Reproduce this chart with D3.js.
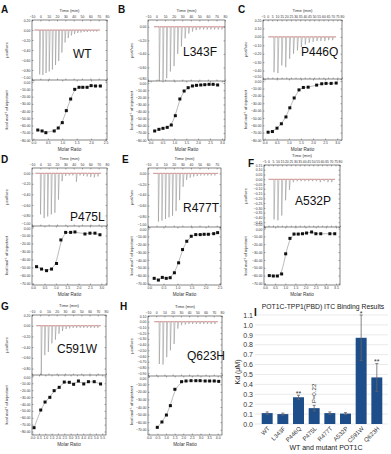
<!DOCTYPE html>
<html>
<head>
<meta charset="utf-8">
<script src="https://cdn.jsdelivr.net/npm/d3@7"></script>
<style>
  body { margin: 0; background: #fff; }
  svg { font-family: "Liberation Sans", Arial, sans-serif; }
  .tick text { font-size: 3.4px; fill: #333; }
  .tick line { stroke: #333; stroke-width: 0.4; }
</style>
</head>
<body>
<div id="fig"></div>
<script>
// ---- ITC raw heat peaks (ucal/sec, minimum of each injection) ----
var wtPeaks    = [-0.89, -0.90, -0.86, -0.83, -0.79, -0.70, -0.62, -0.45, -0.25, -0.16, -0.11, -0.08, -0.06, -0.05, -0.04, -0.04, -0.03, -0.03, -0.03];
var l343fPeaks = [-0.80, -0.79, -0.76, -0.66, -0.58, -0.40, -0.29, -0.17, -0.10, -0.07, -0.05, -0.04, -0.04, -0.04, -0.04, -0.04, -0.04, -0.04];
var p446qPeaks = [-0.42, -0.43, -0.34, -0.36, -0.26, -0.20, -0.16, -0.12, -0.09, -0.07, -0.06, -0.05, -0.05, -0.05, -0.04, -0.04];
var p475lPeaks = [-0.78, -0.85, -0.82, -0.78, -0.75, -0.50, -0.15, -0.05, -0.04, -0.04, -0.16, -0.04, -0.05, -0.06, -0.07, -0.08, -0.06];
var r477tPeaks = [-0.90, -0.88, -0.85, -0.82, -0.79, -0.70, -0.50, -0.25, -0.12, -0.08, -0.06, -0.05, -0.04, -0.04, -0.04, -0.04, -0.04];
var a532pPeaks = [-0.42, -0.43, -0.38, -0.22, -0.11, -0.03, -0.02, -0.02, -0.02, -0.02, -0.02, -0.02, -0.03, -0.02, -0.03, -0.03];
var c591wPeaks = [-0.92, -0.55, -0.49, -0.33, -0.26, -0.15, -0.10, -0.06, -0.05, -0.04, -0.04, -0.04, -0.04, -0.04, -0.04, -0.04, -0.04];
var q623hPeaks = [-0.74, -0.75, -0.62, -0.50, -0.39, -0.12, -0.06, -0.05, -0.04, -0.04, -0.04, -0.04, -0.04, -0.04, -0.04, -0.04];

// first injection time and spacing (min), one per panel A..H
var injStart = [-1, 3, 6.6, 0, 1.9, 6, 1, 3.5];
var injEvery = [3.8, 4.3, 4.2, 4.3, 4.1, 4.3, 4.3, 4.5];

// ---- integrated heats (molar ratio, kcal/mol of injectant) ----
var wtRatio    = [0.15, 0.30, 0.43, 0.72, 0.86, 1.00, 1.14, 1.29, 1.43, 1.58, 1.71, 1.86, 2.00, 2.15, 2.32];
var wtHeat     = [-66.2, -67.5, -69.9, -67.5, -63.4, -56.0, -39.4, -23.3, -9.9, -7.1, -7.1, -7.1, -4.8, -5.3, -5.3];
var l343fRatio = [0.17, 0.35, 0.52, 0.70, 0.87, 1.04, 1.23, 1.41, 1.58, 1.76, 1.93, 2.11, 2.28, 2.46, 2.63, 2.82];
var l343fHeat  = [-67.3, -65.0, -63.6, -62.2, -58.9, -45.8, -22.3, -11.1, -6.4, -4.0, -3.1, -2.6, -2.2, -1.7, -1.7, -2.6];
var p446qRatio = [0.14, 0.32, 0.51, 0.69, 0.88, 1.04, 1.22, 1.42, 1.60, 1.80, 2.15, 2.36, 2.54, 2.75, 2.96];
var p446qHeat  = [-69.4, -68.5, -63.9, -57.9, -48.6, -36.2, -22.8, -11.8, -8.5, -8.1, -5.3, -3.5, -3.0, -3.0, -2.5];
var p475lRatio = [0.15, 0.37, 0.59, 0.81, 1.03, 1.22, 1.43, 1.65, 1.84, 2.28, 2.50, 2.72, 2.94];
var p475lHeat  = [-49, -52, -54, -52, -45, -15.5, -6, -6, -5.5, -8, -7, -7, -9];
var r477tRatio = [0.17, 0.32, 0.46, 0.60, 0.74, 0.89, 1.04, 1.18, 1.33, 1.49, 1.65, 1.81, 1.95, 2.10, 2.29, 2.43];
var r477tHeat  = [-63.5, -65.7, -62.3, -63.5, -62.7, -56.4, -43.7, -26.8, -16.2, -9.8, -7.7, -7.7, -7.3, -7.3, -6.5, -5.2];
var a532pRatio = [0.21, 0.41, 0.61, 0.82, 1.02, 1.23, 1.43, 1.64, 1.85, 2.05, 2.30, 2.51, 2.75, 3.20, 3.44];
var a532pHeat  = [-60.0, -60.5, -60.5, -57.9, -32.2, -12.5, -7.0, -7.0, -6.6, -5.7, -4.4, -6.6, -6.6, -6.6, -6.6];
var c591wRatio = [0.11, 0.64, 0.98, 1.36, 1.70, 2.10, 2.50, 2.90, 3.24, 3.62, 4.04, 4.41, 4.87, 5.37];
var c591wHeat  = [-74.4, -48.8, -37.2, -30.4, -20.7, -15.9, -8.2, -8.6, -11.5, -6.7, -11.0, -7.7, -7.7, -11.0];
var q623hRatio = [0.49, 0.76, 1.02, 1.25, 1.51, 1.90, 2.16, 2.45, 2.73, 2.98, 3.27, 3.53, 3.80, 4.06];
var q623hHeat  = [-66.9, -59.8, -50.6, -38.2, -16.6, -6.5, -5.6, -5.2, -5.2, -5.2, -5.6, -5.6, -5.6, -6.1];

// ---- panel I: Kd summary ----
var mutants = ["WT", "L343F", "P446Q", "P475L", "R477T", "A532P", "C591W", "Q623H"];
var kd      = [0.11, 0.10, 0.27, 0.16, 0.11, 0.105, 0.87, 0.47];
var kdErr   = [0.012, 0.01, 0.02, 0.028, 0.012, 0.01, 0.23, 0.14];
var kdMarks = ["", "", "**", "P=0.22", "", "", "*", "**"];
var kdTicks = [0, 0.1, 0.2, 0.3, 0.4, 0.5, 0.6, 0.7, 0.8, 0.9, 1.0, 1.1];

// panel layout + axis ranges
var panels = [
  {letter: "A", name: "WT",    peaks: wtPeaks,    ratio: wtRatio,    heat: wtHeat,
   x0: 32, x1: 107, top: 20, mid: 80, bot: 140, lx: 1, ly: 13, nx: 73, ny: 58, yt: 8,
   tDom: [-10, 80], tStep: 10, pDom: [0.2, -1.0], pStep: 0.2, rDom: [-0.05, 2.55], hDom: [3, -80], hStep: 10},
  {letter: "B", name: "L343F", peaks: l343fPeaks, ratio: l343fRatio, heat: l343fHeat,
   x0: 148, x1: 225, top: 20, mid: 81, bot: 140, lx: 118, ly: 13, nx: 183, ny: 56, yt: 133,
   tDom: [-10, 80], tStep: 10, pDom: [0.1, -0.8], pStep: 0.2, rDom: [-0.11, 3.13], hDom: [3, -80], hStep: 10},
  {letter: "C", name: "P446Q", peaks: p446qPeaks, ratio: p446qRatio, heat: p446qHeat,
   x0: 263, x1: 342, top: 20, mid: 79, bot: 140, lx: 238, ly: 13, nx: 301, ny: 56, yt: 247,
   tDom: [-5, 80], tStep: 5, pDom: [0.2, -0.5], pStep: 0.1, rDom: [-0.07, 3.2], hDom: [3, -80], hStep: 10},
  {letter: "D", name: "P475L", peaks: p475lPeaks, ratio: p475lRatio, heat: p475lHeat,
   x0: 32, x1: 107, top: 168, mid: 226, bot: 285, lx: 1, ly: 163, nx: 70, ny: 221, yt: 8,
   tDom: [-10, 80], tStep: 10, pDom: [0.1, -1.0], pStep: 0.2, rDom: [-0.05, 3.25], hDom: [2, -72], hStep: 10},
  {letter: "E", name: "R477T", peaks: r477tPeaks, ratio: r477tRatio, heat: r477tHeat,
   x0: 148, x1: 221, top: 168, mid: 227, bot: 285, lx: 122, ly: 163, nx: 183, ny: 212, yt: 133,
   tDom: [-10, 75], tStep: 10, pDom: [0.1, -1.0], pStep: 0.2, rDom: [-0.05, 2.55], hDom: [2, -72], hStep: 10},
  {letter: "F", name: "A532P", peaks: a532pPeaks, ratio: a532pRatio, heat: a532pHeat,
   x0: 264, x1: 340, top: 165, mid: 227, bot: 285, lx: 248, ly: 167, nx: 295, ny: 205, yt: 247,
   tDom: [-5, 80], tStep: 5, pDom: [0.15, -0.5], pStep: 0.05, rDom: [-0.05, 3.7], hDom: [2, -72], hStep: 10},
  {letter: "G", name: "C591W", peaks: c591wPeaks, ratio: c591wRatio, heat: c591wHeat,
   x0: 32, x1: 106, top: 315, mid: 375, bot: 435, lx: 1, ly: 310, nx: 57, ny: 353, yt: 8,
   tDom: [-10, 80], tStep: 10, pDom: [0.2, -0.92], pStep: 0.2, rDom: [-0.05, 5.8], hDom: [2, -85], hStep: 10},
  {letter: "H", name: "Q623H", peaks: q623hPeaks, ratio: q623hRatio, heat: q623hHeat,
   x0: 148, x1: 222, top: 316, mid: 376, bot: 435, lx: 120, ly: 310, nx: 187, ny: 360, yt: 133,
   tDom: [-10, 80], tStep: 10, pDom: [0.1, -0.95], pStep: 0.1, rDom: [-0.05, 4.25], hDom: [1, -77], hStep: 10}
];

function steps(dom, step) {
  var lo = Math.min(dom[0], dom[1]), hi = Math.max(dom[0], dom[1]);
  var out = [];
  for (var k = Math.ceil(lo / step - 1e-6); k * step <= hi + 1e-6; k++) out.push(+(k * step).toFixed(4));
  return out;
}

var svg = d3.select("#fig").append("svg")
    .attr("width", 391)
    .attr("height", 454);

panels.forEach(function (p, i) {
  var g = svg.append("g");
  var xt = d3.scaleLinear().domain(p.tDom).range([p.x0, p.x1]);
  var yp = d3.scaleLinear().domain(p.pDom).range([p.top, p.mid]);
  var xr = d3.scaleLinear().domain(p.rDom).range([p.x0, p.x1]);
  var yh = d3.scaleLinear().domain(p.hDom).range([p.mid, p.bot]);

  var tTicks = steps(p.tDom, p.tStep);
  var pTicks = steps(p.pDom, p.pStep);
  var rTicks = steps(p.rDom, 0.5);
  var hTicks = steps(p.hDom, p.hStep);

  // clip for raw trace
  var clipId = "clip" + i;
  svg.append("clipPath").attr("id", clipId).append("rect")
      .attr("x", p.x0).attr("y", p.top).attr("width", p.x1 - p.x0).attr("height", p.mid - p.top);

  // raw thermogram: baseline with one spike per injection
  var t0 = injStart[i], dt = injEvery[i];
  var last = t0 + dt * (p.peaks.length - 1);
  var trace = [[Math.max(p.tDom[0] + 0.5, t0 - 6), 0]];
  p.peaks.forEach(function (v, k) {
    var t = t0 + k * dt;
    trace.push([t, 0], [t + 0.25, v], [t + 1.3, 0]);
  });
  trace.push([last + 4, 0]);
  var line = d3.line().x(d => xt(d[0])).y(d => yp(d[1]));

  g.append("path")
      .attr("clip-path", "url(#" + clipId + ")")
      .attr("d", line(trace))
      .attr("fill", "none")
      .attr("stroke", "#8a8a8a")
      .attr("stroke-width", 0.5);
  g.append("path")
      .attr("d", line([[trace[0][0], 0], [last + 4, 0]]))
      .attr("fill", "none")
      .attr("stroke", "#e26a6a")
      .attr("stroke-width", 0.5);

  // integrated heat: fit line + squares
  var pts = p.ratio.map((r, k) => [r, p.heat[k]]);
  g.append("path")
      .attr("d", d3.line().curve(d3.curveBasis).x(d => xr(d[0])).y(d => yh(d[1]))(pts))
      .attr("fill", "none")
      .attr("stroke", "#777")
      .attr("stroke-width", 0.5);
  g.selectAll(".pt").data(pts).enter().append("rect")
      .attr("x", d => xr(d[0]) - 1.5)
      .attr("y", d => yh(d[1]) - 1.5)
      .attr("width", 3)
      .attr("height", 3)
      .attr("fill", "#111");

  // frames
  g.append("rect")
      .attr("x", p.x0).attr("y", p.top)
      .attr("width", p.x1 - p.x0).attr("height", p.bot - p.top)
      .attr("fill", "none").attr("stroke", "#333").attr("stroke-width", 0.6);
  g.append("line")
      .attr("x1", p.x0).attr("x2", p.x1).attr("y1", p.mid).attr("y2", p.mid)
      .attr("stroke", "#333").attr("stroke-width", 0.6);

  // axes (inward ticks, Origin style)
  function ax(a, tx, ty, vals, fmt) {
    var sel = g.append("g").attr("transform", "translate(" + tx + "," + ty + ")")
        .call(a.tickValues(vals).tickSize(-1.5).tickPadding(1.6).tickFormat(fmt));
    sel.select(".domain").remove();
    return sel;
  }
  var none = () => "";
  var f2 = d3.format(".2f");
  ax(d3.axisTop(xt), 0, p.top, tTicks, d3.format("d"));
  ax(d3.axisBottom(xt), 0, p.mid, tTicks, none);
  var pAx = ax(d3.axisLeft(yp), p.x0, 0, pTicks, f2);
  ax(d3.axisRight(yp), p.x1, 0, pTicks, none);
  var hAx = ax(d3.axisLeft(yh), p.x0, 0, hTicks, f2);
  ax(d3.axisRight(yh), p.x1, 0, hTicks, none);
  ax(d3.axisBottom(xr), 0, p.bot, rTicks, d3.format(".1f"));
  ax(d3.axisTop(xr), 0, p.mid, rTicks, none);

  // the upper plot's last label and the lower plot's 0 label share the divider:
  // nudge them apart so both stay readable
  pAx.selectAll(".tick").filter(v => Math.abs(yp(v) - p.mid) < 1)
      .select("text").attr("y", -2.2);
  hAx.selectAll(".tick").filter(v => v === 0 && yh(0) - p.mid < 2.2)
      .select("text").attr("y", p.mid + 2.2 - yh(0));

  // titles
  var cx = (p.x0 + p.x1) / 2;
  g.append("text").attr("x", cx).attr("y", p.top - 8.5)
      .attr("text-anchor", "middle").attr("font-size", 4.2).attr("fill", "#333")
      .text("Time (min)");
  g.append("text").attr("x", cx).attr("y", p.bot + 11)
      .attr("text-anchor", "middle").attr("font-size", 4.6).attr("fill", "#333")
      .text("Molar Ratio");
  g.append("text")
      .attr("transform", "translate(" + p.yt + "," + (p.top + p.mid) / 2 + ") rotate(-90)")
      .attr("text-anchor", "middle").attr("font-size", 4.2).attr("fill", "#333")
      .text("\u00b5cal/sec");
  g.append("text")
      .attr("transform", "translate(" + p.yt + "," + (p.mid + p.bot) / 2 + ") rotate(-90)")
      .attr("text-anchor", "middle").attr("font-size", 4.2).attr("fill", "#333")
      .text("kcal mol\u207b\u00b9 of injectant");

  g.append("text").attr("x", p.nx).attr("y", p.ny)
      .attr("font-size", 12).attr("fill", "#111")
      .text(p.name);
  g.append("text").attr("x", p.lx).attr("y", p.ly)
      .attr("font-size", 10).attr("font-weight", "bold").attr("fill", "#111")
      .text(p.letter);
});

// ---- panel I: bar chart ----
var bx = d3.scaleBand().domain(mutants).range([257, 387]).padding(0.3);
var by = d3.scaleLinear().domain([0, 1.1]).range([424, 315]);
var gi = svg.append("g");

gi.selectAll(".grid").data(kdTicks).enter().append("line")
    .attr("x1", 255).attr("x2", 388)
    .attr("y1", d => by(d)).attr("y2", d => by(d))
    .attr("stroke", "#dcdcdc").attr("stroke-width", 0.6);

var yAx = gi.append("g").attr("transform", "translate(256,0)")
    .call(d3.axisLeft(by).tickValues(kdTicks).tickSize(0).tickPadding(3).tickFormat(d3.format(".1f")));
yAx.select(".domain").remove();
yAx.selectAll("text").style("font-size", "7px").style("fill", "#333");

gi.selectAll(".bar").data(mutants).enter().append("rect")
    .attr("x", d => bx(d))
    .attr("y", (d, k) => by(kd[k]))
    .attr("width", bx.bandwidth())
    .attr("height", (d, k) => by(0) - by(kd[k]))
    .attr("fill", "#1d4e8a");

mutants.forEach(function (m, k) {
  var c = bx(m) + bx.bandwidth() / 2;
  var lo = by(kd[k] - kdErr[k]), hi = by(kd[k] + kdErr[k]);
  gi.append("line").attr("x1", c).attr("x2", c).attr("y1", lo).attr("y2", hi)
      .attr("stroke", "#666").attr("stroke-width", 0.8);
  [lo, hi].forEach(function (yy) {
    gi.append("line").attr("x1", c - 1.5).attr("x2", c + 1.5).attr("y1", yy).attr("y2", yy)
        .attr("stroke", "#666").attr("stroke-width", 0.8);
  });
  if (kdMarks[k] === "P=0.22") {
    gi.append("text")
        .attr("transform", "translate(" + (c + 2.3) + "," + (hi - 2) + ") rotate(-90)")
        .attr("font-size", 6.2).attr("fill", "#333")
        .text(kdMarks[k]);
  } else if (kdMarks[k]) {
    gi.append("text").attr("x", c).attr("y", hi + 0.8)
        .attr("text-anchor", "middle").attr("font-size", 7).attr("fill", "#333")
        .text(kdMarks[k]);
  }
});

var xAx = gi.append("g").attr("transform", "translate(0,424)")
    .call(d3.axisBottom(bx).tickSize(0).tickPadding(0));
xAx.select(".domain").remove();
xAx.selectAll("text")
    .attr("y", 0).attr("dy", 0)
    .attr("text-anchor", "end")
    .attr("transform", "translate(3,5) rotate(-45)")
    .style("font-size", "6px").style("fill", "#333");

gi.append("text").attr("x", 323).attr("y", 309)
    .attr("text-anchor", "middle").attr("font-size", 6.8).attr("fill", "#222")
    .text("POT1C-TPP1(PBD) ITC Binding Results");
gi.append("text").attr("transform", "translate(240,372) rotate(-90)")
    .attr("text-anchor", "middle").attr("font-size", 7).attr("fill", "#222")
    .text("Kd (\u03bcM)");
gi.append("text").attr("x", 326).attr("y", 450)
    .attr("text-anchor", "middle").attr("font-size", 7).attr("fill", "#222")
    .text("WT and mutant POT1C");
gi.append("text").attr("x", 254).attr("y", 316)
    .attr("font-size", 10).attr("font-weight", "bold").attr("fill", "#111")
    .text("I");
</script>
</body>
</html>
